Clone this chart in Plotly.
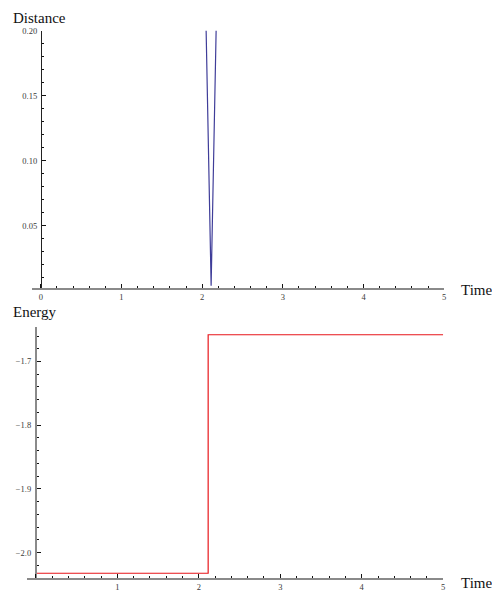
import plotly.graph_objects as go

W, H = 492, 592

# ---- data ----
dist_time = [2.049, 2.111, 2.173]
dist_value = [0.20, 0.0038, 0.20]

energy_time = [0.0, 2.115, 2.115, 5.0]
energy_value = [-2.0325, -2.0325, -1.658, -1.658]

top_x_ticks = [0, 1, 2, 3, 4, 5]
top_x_labels = ["0", "1", "2", "3", "4", "5"]
top_y_ticks = [0.05, 0.10, 0.15, 0.20]
top_y_labels = ["0.05", "0.10", "0.15", "0.20"]
bot_x_ticks = [0, 1, 2, 3, 4, 5]
bot_x_labels = ["", "1", "2", "3", "4", "5"]
bot_y_ticks = [-2.0, -1.9, -1.8, -1.7]
bot_y_labels = ["\u22122.0", "\u22121.9", "\u22121.8", "\u22121.7"]


def px_x(p):
    return p / W


def px_y(p):
    return 1 - p / H


SERIF = "Liberation Serif, Times New Roman, serif"
tickfont = dict(family=SERIF, size=8.5, color="#3a3a3a")

fig = go.Figure()
fig.add_trace(go.Scatter(x=dist_time, y=dist_value, mode="lines",
                         line=dict(color="#3f3d99", width=1.2),
                         xaxis="x", yaxis="y", showlegend=False))
fig.add_trace(go.Scatter(x=energy_time, y=energy_value, mode="lines",
                         line=dict(color="#e8161b", width=1.2),
                         xaxis="x2", yaxis="y2", showlegend=False))

# top plot geometry (pixels)
t_x0, t_origin, t_x5 = 32, 41, 446
t_ytop, t_ybot = 26, 287
t_scale_x = (t_x5 - t_origin) / 5.0
t_scale_y = (290 - 26) / 0.20
t_ymin = 0.20 - (t_ybot - t_ytop) / t_scale_y

# bottom plot geometry
b_x0, b_origin, b_x5 = 27, 36, 445
b_ytop, b_ybot = 327, 582
b_scale_x = (b_x5 - b_origin) / 5.0
b_scale_y = (556 - 362) / 0.3
b_ymin = -2.0 - (b_ybot - 556) / b_scale_y
b_ymax = -1.7 + (362 - b_ytop) / b_scale_y

common_x = dict(showgrid=False, zeroline=False, showline=True,
                linecolor="#8a8a8a", linewidth=1.5, ticks="inside",
                ticklen=4, tickwidth=1, tickcolor="#111",
                tickfont=tickfont, tickmode="array", fixedrange=True)
common_y = dict(showgrid=False, zeroline=False, showline=True,
                ticks="inside", ticklen=4, tickwidth=1, tickcolor="#111",
                tickfont=tickfont, tickmode="array", fixedrange=True,
                ticklabelstandoff=2)

fig.update_layout(
    width=W, height=H,
    margin=dict(l=0, r=0, t=0, b=0),
    paper_bgcolor="white", plot_bgcolor="white",
    xaxis=dict(common_x,
               domain=[px_x(t_x0), px_x(t_x5)],
               range=[(t_x0 - t_origin) / t_scale_x, 5.0],
               anchor="y",
               tickvals=top_x_ticks, ticktext=top_x_labels,
               minor=dict(tickmode="linear", tick0=0, dtick=0.2, ticks="inside",
                          ticklen=2, tickwidth=1, tickcolor="#111")),
    yaxis=dict(common_y,
               domain=[px_y(t_ybot), px_y(t_ytop)],
               range=[t_ymin, 0.20],
               anchor="free", position=px_x(t_origin),
               linecolor="#222", linewidth=1,
               tickvals=top_y_ticks, ticktext=top_y_labels,
               minor=dict(tickmode="linear", tick0=0, dtick=0.01, ticks="inside",
                          ticklen=2, tickwidth=1, tickcolor="#111")),
    xaxis2=dict(common_x,
                domain=[px_x(b_x0), px_x(b_x5)],
                range=[(b_x0 - b_origin) / b_scale_x, 5.0],
                anchor="y2",
                tickvals=bot_x_ticks, ticktext=bot_x_labels,
                minor=dict(tickmode="linear", tick0=0, dtick=0.2, ticks="inside",
                           ticklen=2, tickwidth=1, tickcolor="#111")),
    yaxis2=dict(common_y,
                domain=[px_y(b_ybot), px_y(b_ytop)],
                range=[b_ymin, b_ymax],
                anchor="free", position=px_x(b_origin),
                linecolor="#8a8a8a", linewidth=2,
                tickvals=bot_y_ticks, ticktext=bot_y_labels,
                minor=dict(tickmode="linear", tick0=0, dtick=0.02, ticks="inside",
                           ticklen=2, tickwidth=1, tickcolor="#111")),
)

titlefont = dict(family=SERIF, size=15, color="#111")
fig.add_annotation(text="Distance", xref="paper", yref="paper",
                   x=px_x(12), y=px_y(13), xanchor="left", yanchor="middle",
                   showarrow=False, font=titlefont, borderpad=0)
fig.add_annotation(text="Time", xref="paper", yref="paper",
                   x=px_x(462), y=px_y(289), xanchor="left", yanchor="middle",
                   showarrow=False, font=titlefont, borderpad=0)
fig.add_annotation(text="Energy", xref="paper", yref="paper",
                   x=px_x(12), y=px_y(312), xanchor="left", yanchor="middle",
                   showarrow=False, font=titlefont, borderpad=0)
fig.add_annotation(text="Time", xref="paper", yref="paper",
                   x=px_x(462), y=px_y(587), xanchor="left", yanchor="middle",
                   showarrow=False, font=titlefont, borderpad=0)

fig.write_html("out.html")
